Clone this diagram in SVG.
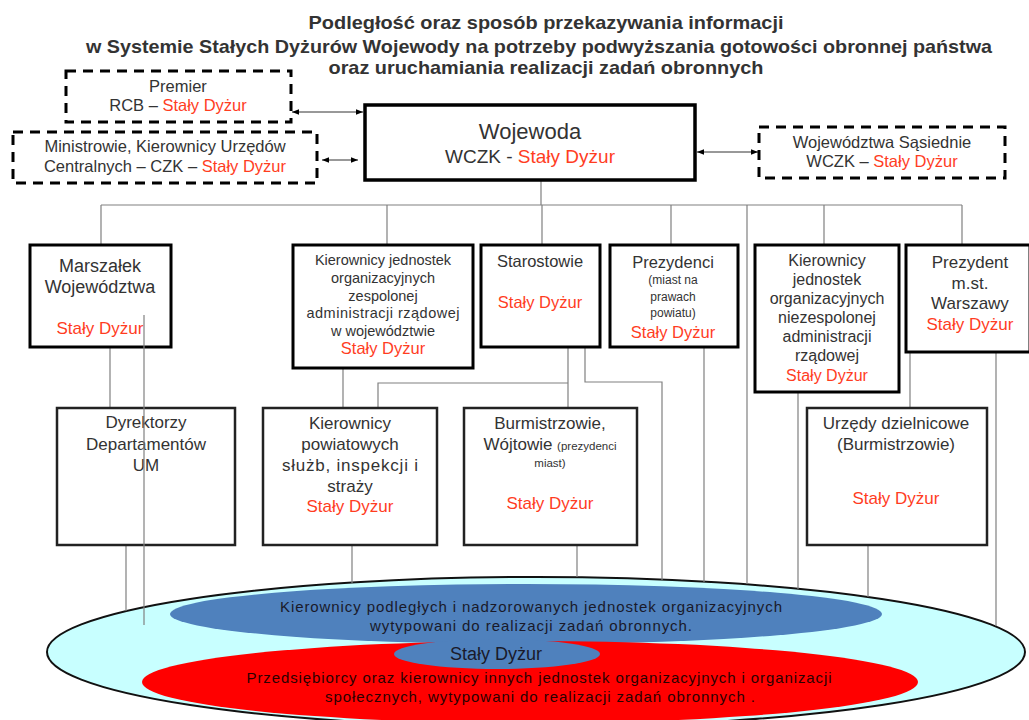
<svg xmlns="http://www.w3.org/2000/svg" width="1029" height="720" viewBox="0 0 1029 720">
<style>
text{font-family:"Liberation Sans",Arial,sans-serif;fill:#333;text-anchor:middle}
.t{font-weight:bold;font-size:19px}
.r{fill:#ff3d1f}
.dash{fill:#fff;stroke:#000;stroke-width:3;stroke-dasharray:10 7}
.box{fill:#fff;stroke:#000;stroke-width:3}
.box2{fill:#fff;stroke:#222;stroke-width:2.5}
.ln{fill:none;stroke:#808080;stroke-width:1.2}
.ar{fill:none;stroke:#333;stroke-width:1}
.f16{font-size:16.5px}
.f15{font-size:14.5px}
.f12{font-size:12px}
</style>
<defs>
<marker id="ah" viewBox="0 0 8 8" refX="8" refY="4" markerWidth="7" markerHeight="7" orient="auto-start-reverse" markerUnits="userSpaceOnUse">
<path d="M0,0.8 L8,4 L0,7.2 Z" fill="#000"/>
</marker>
</defs>
<rect width="1029" height="720" fill="#fff"/>

<g id="title">
<text class="t" x="546" y="29" textLength="475" lengthAdjust="spacingAndGlyphs">Podległość oraz sposób przekazywania informacji</text>
<text class="t" x="539" y="53" textLength="906" lengthAdjust="spacingAndGlyphs">w Systemie  Stałych Dyżurów Wojewody na potrzeby podwyższania gotowości obronnej państwa</text>
<text class="t" x="546" y="74" textLength="435" lengthAdjust="spacingAndGlyphs">oraz uruchamiania realizacji zadań obronnych</text>
</g>

<g id="ellipses">
<ellipse cx="536" cy="652" rx="489" ry="75" fill="#c8ffff" stroke="#111" stroke-width="2"/>
<ellipse cx="526" cy="614" rx="356" ry="30" fill="#4f81bd"/>
<ellipse cx="530" cy="682" rx="388" ry="41" fill="#ff0000"/>
<ellipse cx="497" cy="654" rx="103" ry="15" fill="#4f81bd"/>
<text x="531" y="612" font-size="15" style="fill:#1a1a2a" textLength="502" lengthAdjust="spacing">Kierownicy podległych i nadzorowanych jednostek organizacyjnych</text>
<text x="531" y="631" font-size="15" style="fill:#1a1a2a" textLength="322" lengthAdjust="spacing">wytypowani do realizacji zadań obronnych.</text>
<text x="496" y="660" font-size="18" style="fill:#1a1a2a">Stały Dyżur</text>
<text x="539" y="683" font-size="15" style="fill:#2b0000" textLength="585" lengthAdjust="spacing">Przedsiębiorcy oraz kierownicy innych jednostek organizacyjnych  i organizacji</text>
<text x="540" y="702" font-size="15" style="fill:#2b0000" textLength="430" lengthAdjust="spacing">społecznych,  wytypowani do realizacji zadań obronnych  .</text>
</g>

<g id="connectors">
<path class="ln" d="M541,180 V205 M101,205 H962 M101,205 V245 M387,205 V245 M542,205 V245 M671,205 V245 M747,205 V584 M824,205 V245 M962,205 V245"/>
<path class="ln" d="M110,347 V408 M126,545 V611"/>
<path class="ln" d="M343,368 V408 M568,347 V408 M568,383 H378 V408 M585,347 V382 H662 V580"/>
<path class="ln" d="M704,347 V582 M798,392 V589 M910,352 V408 M996,352 V626 M868,545 V597 M352,545 V583 M577,545 V577"/>
<line class="ar" x1="292" y1="112" x2="363" y2="112" marker-start="url(#ah)" marker-end="url(#ah)"/>
<line class="ar" x1="322" y1="160" x2="358" y2="160" marker-start="url(#ah)" marker-end="url(#ah)"/>
<line class="ar" x1="697" y1="152" x2="758" y2="152" marker-start="url(#ah)" marker-end="url(#ah)"/>
</g>

<g id="premier">
<rect class="dash" x="66" y="71" width="225" height="51"/>
<text class="f16" x="178" y="92">Premier</text>
<text class="f16" x="178" y="111">RCB – <tspan class="r">Stały Dyżur</tspan></text>
</g>

<g id="ministrowie">
<rect class="dash" x="13" y="132" width="304" height="51"/>
<text class="f16" x="165" y="152">Ministrowie, Kierownicy Urzędów</text>
<text class="f16" x="165" y="172">Centralnych – CZK – <tspan class="r">Stały Dyżur</tspan></text>
</g>

<g id="wojewoda">
<rect x="365" y="105" width="330" height="75" fill="#fff" stroke="#000" stroke-width="3.5"/>
<text x="530" y="139" font-size="22">Wojewoda</text>
<text x="530" y="163" font-size="19">WCZK - <tspan class="r">Stały  Dyżur</tspan></text>
</g>

<g id="sasiednie">
<rect class="dash" x="759" y="127" width="246" height="51"/>
<text class="f16" x="882" y="148">Województwa Sąsiednie</text>
<text class="f16" x="882" y="167">WCZK – <tspan class="r">Stały Dyżur</tspan></text>
</g>

<g id="marszalek">
<rect class="box" x="30" y="245" width="141" height="102"/>
<text x="100" y="272" font-size="18">Marszałek</text>
<text x="100" y="293" font-size="18">Województwa</text>
<text class="r" x="100" y="334" font-size="17">Stały Dyżur</text>
</g>

<g id="zespolonej">
<rect class="box" x="293" y="245" width="180" height="123"/>
<text class="f15" x="383" y="265">Kierownicy jednostek</text>
<text class="f15" x="383" y="283">organizacyjnych</text>
<text class="f15" x="383" y="301">zespolonej</text>
<text class="f15" x="383" y="318" textLength="153" lengthAdjust="spacing">administracji  rządowej</text>
<text class="f15" x="383" y="336">w województwie</text>
<text class="r f16" x="383" y="354">Stały Dyżur</text>
</g>

<g id="starostowie">
<rect class="box" x="481" y="245" width="119" height="102"/>
<text x="540" y="267" font-size="16.5">Starostowie</text>
<text class="r" x="540" y="308" font-size="16.5">Stały Dyżur</text>
</g>

<g id="prezydenci">
<rect class="box" x="610" y="245" width="128" height="102"/>
<text x="673" y="268" font-size="16.5">Prezydenci</text>
<text class="f12" x="673" y="284">(miast na</text>
<text class="f12" x="673" y="301">prawach</text>
<text class="f12" x="673" y="317">powiatu)</text>
<text class="r" x="673" y="338" font-size="16.5">Stały Dyżur</text>
</g>

<g id="niezespolonej">
<rect class="box" x="755" y="245" width="144" height="147"/>
<text x="827" y="266" font-size="16">Kierownicy</text>
<text x="827" y="285" font-size="16">jednostek</text>
<text x="827" y="304" font-size="16">organizacyjnych</text>
<text x="827" y="323" font-size="16">niezespolonej</text>
<text x="827" y="342" font-size="16">administracji</text>
<text x="827" y="361" font-size="16">rządowej</text>
<text class="r" x="827" y="381" font-size="16">Stały Dyżur</text>
</g>

<g id="warszawa">
<rect class="box" x="906" y="245" width="124" height="107"/>
<text x="970" y="268" font-size="17">Prezydent</text>
<text x="970" y="289" font-size="17">m.st.</text>
<text x="970" y="309" font-size="17">Warszawy</text>
<text class="r" x="970" y="330" font-size="17">Stały Dyżur</text>
</g>

<g id="dyrektorzy">
<rect class="box2" x="57" y="408" width="178" height="137"/>
<text x="146" y="428" font-size="17">Dyrektorzy</text>
<text x="146" y="450" font-size="17">Departamentów</text>
<text x="146" y="471" font-size="17">UM</text>
</g>

<g id="powiatowych">
<rect class="box2" x="263" y="408" width="174" height="137"/>
<text x="350" y="429" font-size="17">Kierownicy</text>
<text x="350" y="450" font-size="17">powiatowych</text>
<text x="350" y="471" font-size="17" textLength="136" lengthAdjust="spacing">służb,  inspekcji  i</text>
<text x="350" y="492" font-size="17">straży</text>
<text class="r" x="350" y="512" font-size="17">Stały Dyżur</text>
</g>

<g id="burmistrzowie">
<rect class="box2" x="464" y="408" width="173" height="137"/>
<text x="550" y="429" font-size="17">Burmistrzowie,</text>
<text x="550" y="450" font-size="17">Wójtowie <tspan font-size="11.5">(prezydenci</tspan></text>
<text x="550" y="467" font-size="11.5">miast)</text>
<text class="r" x="550" y="509" font-size="17">Stały Dyżur</text>
</g>

<g id="urzedy">
<rect class="box2" x="807" y="408" width="180" height="137"/>
<text x="896" y="429" font-size="17">Urzędy dzielnicowe</text>
<text x="896" y="450" font-size="17">(Burmistrzowie)</text>
<text class="r" x="896" y="504" font-size="17">Stały Dyżur</text>
</g>

<g id="connector-overlay">
<path class="ln" d="M144,315 V625"/>
</g>
</svg>
